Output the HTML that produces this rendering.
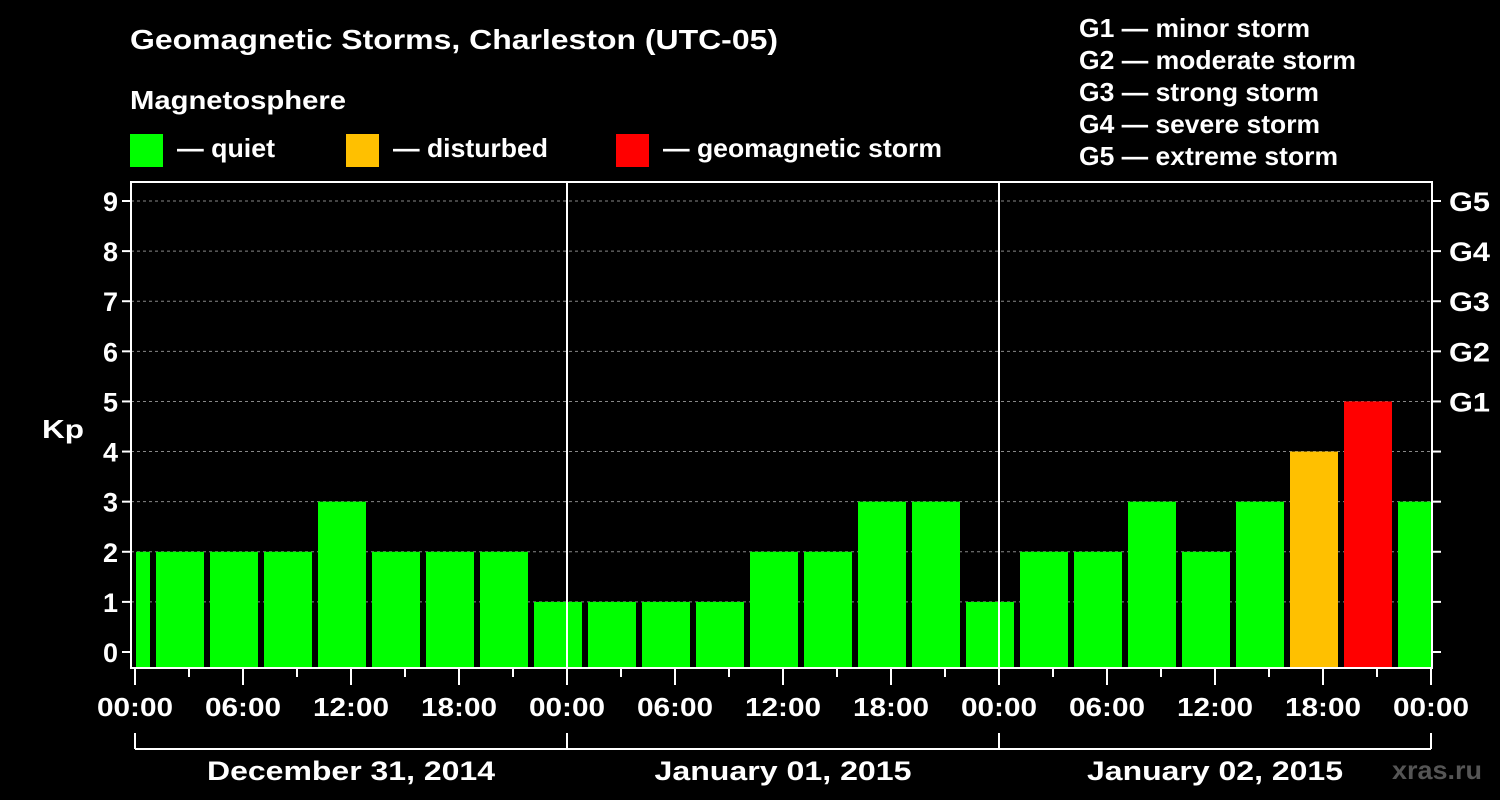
<!DOCTYPE html>
<html><head><meta charset="utf-8"><style>
body{margin:0;background:#000;}
svg{display:block;font-family:"Liberation Sans",sans-serif;font-weight:bold;}
</style></head><body>
<svg id="c" width="1500" height="800" viewBox="0 0 1500 800">
<rect width="1500" height="800" fill="#000"/>
<text x="130" y="49" fill="#fff" font-size="28" textLength="648" lengthAdjust="spacingAndGlyphs">Geomagnetic Storms, Charleston (UTC-05)</text>
<text x="130" y="109" fill="#fff" font-size="26" textLength="216" lengthAdjust="spacingAndGlyphs">Magnetosphere</text>
<g><rect x="130" y="134" width="33" height="33" fill="#00ff00"/><text x="177" y="157" fill="#fff" font-size="26" textLength="98" lengthAdjust="spacingAndGlyphs">— quiet</text></g>
<g><rect x="346" y="134" width="33" height="33" fill="#ffc000"/><text x="393" y="157" fill="#fff" font-size="26" textLength="155" lengthAdjust="spacingAndGlyphs">— disturbed</text></g>
<g><rect x="616" y="134" width="33" height="33" fill="#ff0000"/><text x="663" y="157" fill="#fff" font-size="26" textLength="279" lengthAdjust="spacingAndGlyphs">— geomagnetic storm</text></g>
<g fill="#fff" font-size="26" lengthAdjust="spacingAndGlyphs">
<text x="1079" y="37" textLength="231" lengthAdjust="spacingAndGlyphs">G1 — minor storm</text>
<text x="1079" y="69" textLength="277" lengthAdjust="spacingAndGlyphs">G2 — moderate storm</text>
<text x="1079" y="101" textLength="240" lengthAdjust="spacingAndGlyphs">G3 — strong storm</text>
<text x="1079" y="133" textLength="241" lengthAdjust="spacingAndGlyphs">G4 — severe storm</text>
<text x="1079" y="165" textLength="259" lengthAdjust="spacingAndGlyphs">G5 — extreme storm</text>
</g>
<text x="42" y="438" fill="#fff" font-size="26" textLength="42" lengthAdjust="spacingAndGlyphs">Kp</text>
<text x="1392" y="779" fill="#555" font-size="26" textLength="90" lengthAdjust="spacingAndGlyphs">xras.ru</text>
<g id="plot"></g>
</svg>
<script>
const kpValues=[2,2,2,2,3,2,2,2,1,1,1,1,2,2,3,3,1,2,2,3,2,3,4,5,3];
const yTicks=[0,1,2,3,4,5,6,7,8,9];
const gLabels=["G1","G2","G3","G4","G5"];
const xTickLabels=["00:00","06:00","12:00","18:00","00:00","06:00","12:00","18:00","00:00","06:00","12:00","18:00","00:00"];
const dayLabels=["December 31, 2014","January 01, 2015","January 02, 2015"];
const dayLabelWidths=[288,257,256];
const NS="http://www.w3.org/2000/svg";
const g=document.getElementById('plot');
const L=131,R=1432,T=182,B=668,X0=135,PX_H=18;
const x=h=>X0+h*PX_H;
const y=v=>652-v*(652-201)/9;
function mk(t,a){const e=document.createElementNS(NS,t);for(const k in a)e.setAttribute(k,a[k]);g.appendChild(e);return e;}
function color(v){return v>=5?'#ff0000':v>=4?'#ffc000':'#00ff00';}
yTicks.forEach(v=>{if(v===0)return;
 const l=mk('line',{x1:L,x2:R,y1:y(v),y2:y(v),stroke:'#888','stroke-dasharray':'3,3','stroke-width':1});
 
 
});
kpValues.forEach((v,i)=>{
 let s=-2+3*i,e=s+3;
 let x1=Math.max(x(s)+3,x(0)+1),x2=Math.min(x(e)-3,x(72));
 const r=mk('rect',{x:x1,y:y(v),width:x2-x1,height:B-y(v),fill:color(v)});
 
 
});
[24,48].forEach(h=>{const l=mk('line',{x1:x(h),x2:x(h),y1:T,y2:B,stroke:'#fff','stroke-width':2});
 
 });
const fr=mk('rect',{x:L,y:T,width:R-L,height:B-T,fill:'none',stroke:'#fff','stroke-width':2});


yTicks.forEach(v=>{
 mk('line',{x1:L-9,x2:L,y1:y(v),y2:y(v),stroke:'#fff','stroke-width':2});
 mk('line',{x1:R,x2:R+9,y1:y(v),y2:y(v),stroke:'#fff','stroke-width':2});
 const t=mk('text',{x:L-13,y:y(v)+10,fill:'#fff','font-size':27,'text-anchor':'end'});t.textContent=v;
 
 
 if(v>=5){const gt=mk('text',{x:R+17,y:y(v)+10,fill:'#fff','font-size':27,textLength:41,lengthAdjust:'spacingAndGlyphs'});gt.textContent=gLabels[v-5];
 
 }
});
for(let h=0;h<=72;h+=3){const maj=h%6===0;
 mk('line',{x1:x(h),x2:x(h),y1:B,y2:B+(maj?17:9),stroke:'#fff','stroke-width':2});}
xTickLabels.forEach((s,i)=>{const t=mk('text',{x:x(i*6),y:716,fill:'#fff','font-size':26,'text-anchor':'middle',textLength:76,lengthAdjust:'spacingAndGlyphs'});t.textContent=s;
 
 });
mk('line',{x1:x(0),x2:x(72),y1:749,y2:749,stroke:'#fff','stroke-width':2});
[0,24,48,72].forEach(h=>mk('line',{x1:x(h),x2:x(h),y1:733,y2:749,stroke:'#fff','stroke-width':2}));
dayLabels.forEach((s,i)=>{const t=mk('text',{x:x(i*24+12),y:780,fill:'#fff','font-size':27,'text-anchor':'middle',textLength:dayLabelWidths[i],lengthAdjust:'spacingAndGlyphs'});t.textContent=s;
 
 });
</script>
</body></html>
